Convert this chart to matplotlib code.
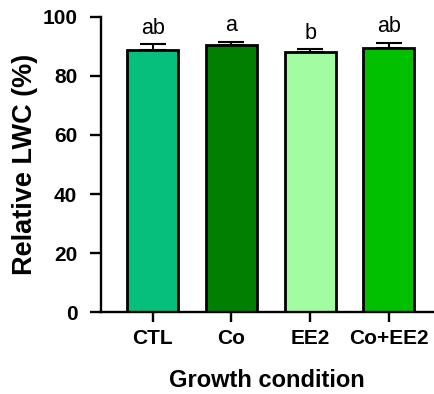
import matplotlib
matplotlib.use('Agg')
import matplotlib.pyplot as plt
import numpy as np

# Relative leaf water content by growth condition (mean + SEM)
conditions = ["CTL", "Co", "EE2", "Co+EE2"]
lwc_mean   = [88.7, 90.4, 88.0, 89.6]
lwc_sem    = [2.0, 1.2, 1.0, 1.6]
sig_letters = ["ab", "a", "b", "ab"]
bar_colors = ["#07BF7C", "#007F00", "#A2FDA2", "#00C000"]

plt.rcParams['font.family'] = ['Liberation Sans', 'DejaVu Sans']

fig = plt.figure(figsize=(4.35, 3.94), dpi=100)
ax = fig.add_axes([0.232, 0.208, 0.763, 0.749])

x = np.arange(len(conditions))
ax.bar(x, lwc_mean, width=0.65, color=bar_colors, edgecolor="black",
       linewidth=2.0, zorder=2)
# upper error bars only
ax.errorbar(x, lwc_mean, yerr=[np.zeros(len(x)), lwc_sem], fmt="none",
            ecolor="black", elinewidth=1.5, capsize=9.5, capthick=1.5, zorder=1)

for xi, m, e, lab in zip(x, lwc_mean, lwc_sem, sig_letters):
    ax.annotate(lab, (xi, m + e), xytext=(0, 4), textcoords="offset points",
                ha="center", va="bottom", fontsize=15.5)

ax.set_xlim(-0.66, 3.56)
ax.set_ylim(0, 100)
ax.set_yticks(np.arange(0, 101, 20))
ax.set_xticks(x)
ax.set_xticklabels(conditions, fontweight="bold", fontsize=15)
for t in ax.get_yticklabels():
    t.set_fontweight("bold")
    t.set_fontsize(15)

ax.spines["top"].set_visible(False)
ax.spines["right"].set_visible(False)
ax.spines["left"].set_linewidth(1.7)
ax.spines["bottom"].set_linewidth(1.7)
ax.tick_params(axis="y", length=8, width=1.7, pad=9)
ax.tick_params(axis="x", length=7, width=1.7, pad=5)

ax.set_xlabel("Growth condition", fontweight="bold", fontsize=17, labelpad=15.5)
ax.set_ylabel("Relative LWC (%)", fontweight="bold", fontsize=19.5, labelpad=3)

fig.savefig("out.png", dpi=100)
